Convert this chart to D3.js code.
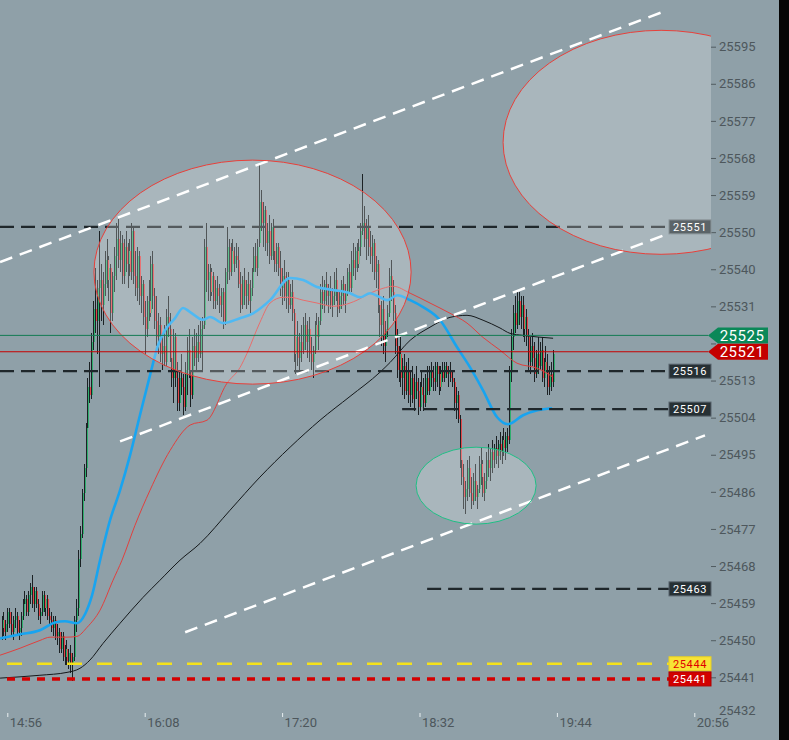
<!DOCTYPE html>
<html>
<head>
<meta charset="utf-8">
<script src="https://cdn.jsdelivr.net/npm/d3@7"></script>
<style>
  body { margin: 0; background: #8fa0a8; }
  svg { display: block; font-family: Roboto, sans-serif; }
</style>
</head>
<body>
<svg></svg>
<script>
//constants
const width = 789, height = 740;
const plotRight = 711, plotBottom = 712;

//data: minutes after 14:56, prices
const BASE = 25400;
const firstMinute = -3; // first candle at 14:53, one per minute
// [open, high, low, close] minus BASE
const candles = [
  [53,56,50,55],[55,57,51,52],[52,55,50,54],[54,58,52,57],[57,58,53,54],
  [54,57,51,52],[52,56,50,55],[55,58,53,56],[56,57,51,52],[52,55,50,53],
  [53,57,51,56],[56,60,55,59],[59,62,57,60],[60,61,56,57],[57,62,56,61],[61,64,59,63],[63,66,58,59],[59,63,57,62],
  [62,63,58,59],[59,60,55,56],[56,58,54,57],[57,62,56,61],[61,62,57,58],[58,61,56,60],[60,61,55,56],[56,58,54,55],
  [55,57,52,53],[53,56,51,55],[55,56,50,51],[51,54,49,52],[52,53,47,48],[48,52,47,51],
  [51,52,45,46],[46,49,44,48],[48,50,44,45],[45,48,43,47],[47,49,42,44],[44,47,40,46],
  [46,56,45,55],[55,60,52,58],
  [58,72,56,70],[70,78,68,76],[76,87,75,86],[86,93,84,92],[92,103,90,102],[102,114,100,112],[112,118,108,110],[110,125,109,123],[123,133,121,131],[131,141,125,128],[128,138,120,136],[136,150,112,138],
  [138,142,128,132],[132,140,127,137],
  [137,145,134,143],[143,148,136,138],[138,144,133,141],[141,142,125,130],[130,140,128,139],[139,146,135,144],
  [144,152,138,148],[148,153,141,143],[143,150,140,147],[147,149,137,139],[139,148,137,146],
  [146,150,140,142],[142,147,136,145],[145,148,139,140],[140,152,138,150],[150,151,137,139],[139,145,134,136],
  [136,146,133,144],[144,145,132,134],[134,139,130,137],[137,138,127,129],[129,133,120,126],
  [126,134,124,133],[133,138,128,130],[130,144,129,142],[142,145,131,134],[134,136,126,128],
  [128,134,122,124],[124,130,120,127],[127,129,118,120],[120,125,116,122],[122,127,117,118],
  [118,131,117,129],[129,134,124,126],[126,130,118,119],[119,123,112,114],[114,126,108,124],
  [124,125,112,114],[114,118,106,108],[108,116,106,114],[114,120,110,112],[112,115,105,107],[107,118,106,116],
  [116,124,110,121],[121,126,114,116],
  [116,120,107,110],[110,124,109,122],[122,126,117,119],[119,125,116,123],[123,127,118,120],[120,128,119,126],
  [126,129,116,127],
  [127,148,126,146],[146,152,135,138],
  [138,142,133,140],[140,142,133,135],[135,141,134,139],
  [139,140,131,133],[133,138,131,136],[136,139,132,134],[134,137,130,132],[132,136,129,135],[135,136,126,128],
  [128,141,127,140],[140,151,137,146],[146,148,138,140],
  [140,147,139,145],[145,148,141,142],[142,146,140,144],[144,147,141,143],
  [143,146,136,137],[137,140,130,132],[132,139,131,138],
  [138,141,132,134],[134,138,131,137],[137,140,132,133],[133,138,130,136],[136,141,134,140],
  [140,146,138,144],[144,147,140,141],[141,148,139,146],[147,166,146,157],
  [157,160,150,152],[152,157,146,155],[155,156,145,147],[147,152,144,150],
  [150,154,142,144],[144,152,143,151],[151,153,143,145],
  [145,148,140,142],[142,147,140,146],[146,147,139,141],
  [141,145,134,136],[136,141,132,139],[139,143,133,134],[134,140,131,138],[138,140,130,132],[132,137,131,135],[135,138,128,130],
  [130,131,118,120],[120,126,115,124],[124,128,117,119],[119,125,116,123],[123,127,118,121],
  [121,129,120,127],[127,130,121,123],[123,128,119,126],[126,129,118,120],[120,124,116,118],[118,122,114,121],[121,128,120,127],[127,130,122,124],[124,129,121,128],
  [128,137,127,135],[135,139,131,133],[133,138,130,137],[137,140,132,134],[134,137,130,136],[136,139,131,132],
  [132,136,129,134],[134,140,132,138],[138,141,133,135],[135,137,129,131],[131,135,130,134],[134,138,131,137],[137,139,132,133],[133,137,130,135],[135,141,134,140],[140,142,135,136],
  [136,145,135,143],[143,147,139,141],[141,146,138,145],[145,147,140,142],[142,148,141,146],
  [146,152,144,150],[150,164,149,152],
  [152,156,146,148],[148,153,143,151],[151,154,144,146],[146,150,142,144],
  [144,149,140,147],[147,148,138,140],[140,144,136,142],[142,143,130,132],[132,137,124,127],[127,133,122,131],[131,134,120,122],[122,128,118,126],
  [126,132,124,130],[130,141,129,139],[139,143,133,135],[135,138,128,130],
  [130,132,120,122],[122,126,114,116],[116,122,113,120],[120,124,112,114],[114,119,110,117],[117,120,109,111],[111,118,110,116],[116,119,108,110],
  [110,116,107,114],[114,117,108,109],[109,115,106,113],[113,117,109,111],[111,114,105,107],[107,113,106,112],[112,116,108,110],[110,114,106,108],[108,115,107,114],[114,117,110,111],
  [111,117,110,116],[116,118,112,114],[114,117,111,113],[113,118,111,117],[117,118,112,115],[115,117,110,112],[112,117,111,116],
  [116,118,113,114],[114,118,113,117],[117,118,114,115],[115,117,112,116],[116,118,113,114],[114,116,112,113],
  [113,114,106,108],[108,112,104,110],[110,111,103,104],
  [104,105,92,94],[94,97,88,90],
  [90,93,82,85],[85,89,81,87],[87,94,84,92],[92,95,85,86],[86,90,82,84],[84,91,83,89],[89,93,84,85],[85,88,82,87],
  [87,95,86,93],[93,97,88,90],[90,94,85,86],[86,91,84,89],[89,96,87,94],[94,98,90,92],[92,97,89,96],
  [96,99,91,94],[94,98,92,97],[97,100,93,95],[95,99,92,98],[98,101,94,96],[96,100,93,99],[99,102,95,97],[97,101,94,100],[100,102,96,99],
  [99,117,98,116],
  [116,126,113,124],[124,132,121,130],[130,134,125,127],[127,135,126,133],
  [133,135,127,129],[129,134,126,132],[132,134,124,126],[126,131,123,129],[129,131,122,124],
  [124,126,116,118],[118,124,115,122],[122,125,117,119],[119,123,113,115],[115,121,114,120],
  [120,124,115,117],[117,123,116,121],[121,124,113,114],[114,119,112,118],[118,122,115,116],
  [116,120,110,112],[112,117,110,115],[115,118,111,113],[113,121,112,120]
];

// moving averages: [minute, price]
const maFast = [[-3.8,25450.5],[6.7,25451.5],[17.1,25452.5],[25,25454.4],[30.2,25454.7],[36.5,25454.2],[40.7,25456.4],[44.4,25461],[48.6,25469.6],[53.8,25479.3],[59.1,25486.7],[64.3,25495.2],[69.5,25505],[74.8,25514.8],[79,25522.1],[82.7,25525.8],[87.9,25528.7],[92.1,25531.2],[95.8,25530.2],[102.6,25528.3],[106.2,25529],[113.1,25527.5],[121.9,25528.7],[128.8,25529.9],[137.7,25533.1],[148.2,25538.5],[155,25538],[162.3,25536.3],[170.7,25535.6],[179.6,25534.8],[184.9,25533.8],[190.1,25534.8],[195.3,25533.8],[199,25533.1],[204.3,25534.3],[211.1,25533.1],[217.9,25531.4],[226.8,25528.2],[235.7,25521.6],[242.5,25516.7],[249.3,25511.1],[256.7,25504.5],[262.4,25502.8],[270.3,25505],[277.8,25506.2],[285.5,25506.7]];
const maMid = [[-3.8,25446.4],[6.7,25448.1],[17.1,25450],[22.4,25450.8],[31.3,25450.8],[36.5,25451],[41.8,25453.2],[48.6,25457.4],[55.4,25464.7],[60.1,25469.6],[66.9,25478.1],[74.8,25486.7],[85.3,25496.4],[95.8,25502.6],[104.7,25503.8],[115.1,25512.8],[122,25516.7],[125.6,25520.1],[132.4,25527.7],[137.7,25532.4],[144.5,25533.8],[148.2,25533.8],[155,25533.1],[162.3,25532.4],[170.7,25531.6],[175.9,25531.9],[183.3,25533.1],[190.1,25534.8],[196.9,25536],[202.2,25536.5],[211.1,25534.8],[221.5,25532.4],[232,25529.9],[240.9,25527.5],[249.3,25524],[258.2,25520.9],[267.1,25517.7],[277.6,25516.5],[286,25514.3]];
const maSlow = [[-3.8,25440.8],[17.1,25441.5],[31.3,25442.2],[38.1,25443.2],[43.3,25445.2],[50.2,25449.3],[59.1,25454.2],[71.1,25460.5],[80,25464.7],[90.5,25469.6],[101,25473.7],[116.7,25481.8],[132.4,25489.9],[148.2,25497.2],[163.9,25503.8],[179.6,25509.6],[195.3,25515.5],[200.6,25517.9],[211.1,25523.3],[221.5,25526.5],[232,25528.9],[240.9,25529.4],[249.3,25528.2],[258.2,25526.3],[263.4,25525],[270.3,25524.5],[286,25523.8]];

// drawings
const trendLines = [
  [[-3.8,25542.4],[345.8,25603.9]],
  [[59.1,25498.6],[348.4,25549.7]],
  [[93.2,25452.0],[365.6,25500.1]]
];
// [minute from, minute to, price low, price high, colour]
const ellipses = [
  [45.4,211.6,25512.6,25567.3,"#e8403a"],
  [259.8,425.4,25544.3,25599.0,"#e8403a"],
  [214.2,277.1,25478.4,25497.2,"#1fbf85"]
];
// dashed levels: price, start minute (null = left edge), tag colour
const levels = [25551, 25515.75, 25506.5, 25462.6];
const levelStarts = [null, null, 206.9, 220];
const levelTagFill = ["#5b6468", "#263034", "#263034", "#263034"];
const alertYellow = 25444.3, alertRed = 25440.6;
const lastAsk = 25524.5, lastBid = 25520.5;

// axes
const xTickMinutes = [0, 72, 144, 216, 288, 360];
const xTickLabels = ["14:56", "16:08", "17:20", "18:32", "19:44", "20:56"];
// the 25522 tick sits under the bid/ask tags, its label is covered
const yTickLabels = [25432,25441,25450,25459,25468,25477,25486,25495,25504,25513,"",25531,25540,25550,25559,25568,25577,25586,25595];

//scales
const xScale = d3.scaleLinear().domain([0, 360]).range([7.3, 694.3]);
const yScale = d3.scaleLinear().domain([25441, 25595]).range([677.3, 46.7]);
const yStep = (25595 - 25441) / 17;

//canvas
const svg = d3.select("svg").attr("width", width).attr("height", height);
svg.append("rect").attr("width", width).attr("height", height).attr("fill", "#8fa0a8");
svg.append("rect").attr("x", 779).attr("width", 10).attr("height", height).attr("fill", "#050505");

svg.append("defs").append("clipPath").attr("id", "plotclip")
  .append("rect").attr("width", plotRight).attr("height", plotBottom);

const plot = svg.append("g").attr("clip-path", "url(#plotclip)");

//candles (snapped to whole pixels like the platform does)
const cx = (d, i) => Math.round(xScale(firstMinute + i)) + 0.5;
const cg = plot.append("g").attr("shape-rendering", "crispEdges");
cg.selectAll("line.wick")
  .data(candles)
  .enter()
  .append("line")
  .attr("x1", cx).attr("x2", cx)
  .attr("y1", d => yScale(BASE + d[1]))
  .attr("y2", d => yScale(BASE + d[2]))
  .attr("stroke", "#1b2124")
  .attr("stroke-width", 1);
cg.selectAll("line.body")
  .data(candles)
  .enter()
  .append("line")
  .attr("x1", (d, i) => cx(d, i) + 1).attr("x2", (d, i) => cx(d, i) + 1)
  .attr("y1", d => yScale(BASE + d[0]))
  .attr("y2", d => yScale(BASE + d[3]) + (d[0] == d[3] ? 1 : 0))
  .attr("stroke", d => d[3] >= d[0] ? "#2fae6e" : "#e2474a")
  .attr("stroke-width", 1);

//moving averages
const ma = d3.line().x(d => xScale(d[0])).y(d => yScale(d[1])).curve(d3.curveMonotoneX);
plot.append("path").datum(maSlow).attr("d", ma).attr("fill", "none")
  .attr("stroke", "#15191b").attr("stroke-width", 1);
plot.append("path").datum(maMid).attr("d", ma).attr("fill", "none")
  .attr("stroke", "#e0403e").attr("stroke-width", 1);
plot.append("path").datum(maFast).attr("d", ma).attr("fill", "none")
  .attr("stroke", "#18a4f0").attr("stroke-width", 2.6);

//dashed levels
const tagX = 669;
plot.selectAll("levelline")
  .data(levels)
  .enter()
  .append("line")
  .attr("x1", (d, i) => levelStarts[i] == null ? 0 : xScale(levelStarts[i]))
  .attr("x2", tagX)
  .attr("y1", d => yScale(d)).attr("y2", d => yScale(d))
  .attr("stroke", "#1f272b")
  .attr("stroke-width", 2.2)
  .attr("stroke-dasharray", "14,7");

plot.append("line")
  .attr("x1", 0).attr("x2", tagX)
  .attr("y1", yScale(alertYellow)).attr("y2", yScale(alertYellow))
  .attr("stroke", "#f5e21a").attr("stroke-width", 2.5)
  .attr("stroke-dasharray", "15,15").attr("stroke-dashoffset", -7);
plot.append("line")
  .attr("x1", 0).attr("x2", tagX)
  .attr("y1", yScale(alertRed)).attr("y2", yScale(alertRed))
  .attr("stroke", "#d40000").attr("stroke-width", 3.5)
  .attr("stroke-dasharray", "8,7").attr("stroke-dashoffset", -7);

//trend channel
plot.selectAll("trend")
  .data(trendLines)
  .enter()
  .append("line")
  .attr("x1", d => xScale(d[0][0])).attr("y1", d => yScale(d[0][1]))
  .attr("x2", d => xScale(d[1][0])).attr("y2", d => yScale(d[1][1]))
  .attr("stroke", "#ffffff")
  .attr("stroke-width", 2.5)
  .attr("stroke-dasharray", "13,8");

//ellipses
plot.selectAll("zone")
  .data(ellipses)
  .enter()
  .append("ellipse")
  .attr("cx", d => (xScale(d[0]) + xScale(d[1])) / 2)
  .attr("cy", d => (yScale(d[2]) + yScale(d[3])) / 2)
  .attr("rx", d => (xScale(d[1]) - xScale(d[0])) / 2)
  .attr("ry", d => (yScale(d[2]) - yScale(d[3])) / 2)
  .attr("fill", "rgba(255,255,255,0.24)")
  .attr("stroke", d => d[4])
  .attr("stroke-width", 1);

//bid / ask lines
plot.append("line")
  .attr("x1", 0).attr("x2", 708)
  .attr("y1", yScale(lastAsk)).attr("y2", yScale(lastAsk))
  .attr("stroke", "#137a52").attr("stroke-width", 1);
plot.append("line")
  .attr("x1", 0).attr("x2", 708)
  .attr("y1", yScale(lastBid)).attr("y2", yScale(lastBid))
  .attr("stroke", "#c60000").attr("stroke-width", 1);

//axes
const yAxis = svg.append("g")
  .attr("transform", "translate(" + plotRight + ",0)")
  .call(d3.axisRight(yScale)
    .tickValues(yTickLabels.map((d, i) => 25441 + (i - 1) * yStep))
    .tickFormat((d, i) => yTickLabels[i])
    .tickSize(5)
    .tickPadding(3));
yAxis.select(".domain").remove();
yAxis.selectAll("line").attr("stroke", "#525c61");
yAxis.selectAll("text")
  .attr("fill", "#4d575c")
  .style("font-size", "13px")
  .style("font-family", "Roboto, sans-serif");
// lowest label sits just above the time axis, without a tick mark
const lowTick = yAxis.selectAll(".tick").filter((d, i) => i == 0);
lowTick.select("line").remove();
lowTick.select("text").attr("y", -4);

const xAxis = svg.append("g")
  .attr("transform", "translate(0," + 713 + ")")
  .call(d3.axisBottom(xScale)
    .tickValues(xTickMinutes)
    .tickFormat((d, i) => xTickLabels[i])
    .tickSize(4)
    .tickPadding(1));
xAxis.select(".domain").remove();
xAxis.selectAll("line").attr("stroke", "#e8eef0");
xAxis.selectAll("text")
  .attr("x", 2)
  .attr("text-anchor", "start")
  .attr("fill", "#4d575c")
  .style("font-size", "13px")
  .style("font-family", "Roboto, sans-serif");

//level tags
const tags = svg.append("g");
function boxTag(v, fill, stroke, textFill) {
  const y = yScale(v);
  tags.append("rect")
    .attr("x", tagX).attr("y", y - 7)
    .attr("width", 42).attr("height", 14)
    .attr("fill", fill).attr("stroke", stroke).attr("stroke-width", 1);
  tags.append("text")
    .attr("x", tagX + 21).attr("y", y + 4)
    .attr("text-anchor", "middle")
    .attr("fill", textFill)
    .style("font-size", "11px")
    .style("letter-spacing", "0.6px")
    .text(Math.round(v));
}
levels.forEach((v, i) => boxTag(v, levelTagFill[i], i == 0 ? "#8a9498" : "#56616a", "#ffffff"));
boxTag(alertYellow, "#f8e436", "#e8d020", "#e00000");
boxTag(alertRed, "#d20000", "#b00000", "#ffffff");

function arrowTag(v, fill) {
  const y = yScale(v);
  tags.append("path")
    .attr("d", "M708," + y + "L718," + (y - 8) + "H768V" + (y + 8) + "H718Z")
    .attr("fill", fill);
  tags.append("text")
    .attr("x", 742).attr("y", y + 5.5)
    .attr("text-anchor", "middle")
    .attr("fill", "#ffffff")
    .style("font-size", "15px")
    .style("letter-spacing", "0.5px")
    .text(Math.round(v));
}
arrowTag(lastAsk, "#0a8858");
arrowTag(lastBid, "#c40000");
</script>
</body>
</html>
